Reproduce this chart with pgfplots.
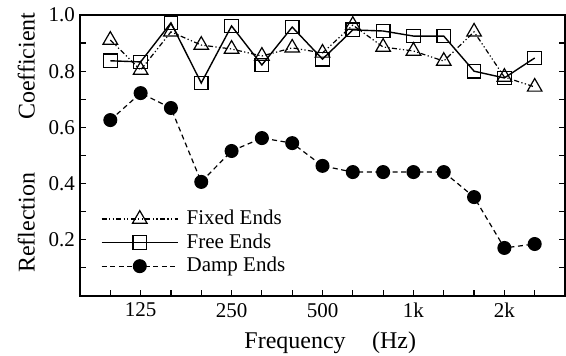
\documentclass[border=0pt]{standalone}
\usepackage{fontspec}
\setmainfont{Liberation Serif}
\usepackage{pgfplots}
\pgfplotsset{compat=1.18}
\begin{document}
\begin{tikzpicture}
\useasboundingbox (-40pt,-30pt) rectangle (243pt,148pt);
\begin{axis}[
  scale only axis,
  width=242.5pt, height=140.5pt,
  xmin=-1, xmax=15, ymin=0, ymax=1.0,
  xtick={0,...,14},
  xticklabels={,125,,,250,,,500,,,1k,,,2k,},
  xtick pos=left,
  ytick={0.2,0.4,0.6,0.8,1.0},
  minor ytick={0.1,0.3,0.5,0.7,0.9},
  yticklabel style={/pgf/number format/fixed,/pgf/number format/fixed zerofill,/pgf/number format/precision=1, xshift=1pt},
  /pgf/number format/assume math mode=true,
  tick align=inside,
  major tick length=3pt, minor tick length=3pt,
  tick style={line width=0.6pt, black},
  axis line style={line width=1pt},
  ticklabel style={font=\fontsize{10.5}{12}\selectfont},
  label style={font=\fontsize{12}{14}\selectfont},
  xlabel={Frequency\hspace{1.1em}(Hz)},
  ylabel={Reflection\hspace{2.2em}Coefficient},
  xlabel style={at={(ticklabel cs:0.516)}, yshift=0pt},
  ylabel style={at={(ticklabel cs:0.546)}},
  legend style={draw=none, fill=none, at={(0.03,0.335)}, anchor=north west,
    font=\fontsize{10.5}{12}\selectfont, row sep=-1pt,
    nodes={inner xsep=4pt}},
  legend cell align=left,
  legend image code/.code={\draw[mark repeat=2,mark phase=2] plot coordinates {(0cm,0cm) (0.67cm,0cm) (1.34cm,0cm)};},
]
\addplot[black, line width=0.6pt, dash pattern=on 2.5pt off 1.2pt on 0.6pt off 1.2pt on 0.6pt off 1.2pt,
  mark=triangle, mark size=4.2pt, mark options={solid, fill=white, line width=0.6pt}]
  coordinates {(0,0.911)(1,0.804)(2,0.940)(3,0.893)(4,0.879)(5,0.854)(6,0.883)(7,0.865)(8,0.964)(9,0.886)(10,0.872)(11,0.836)(12,0.940)(13,0.779)(14,0.744)};
\addlegendentry{Fixed Ends}
\addplot[black, line width=0.7pt, mark=square, mark size=3.4pt, mark options={solid, fill=white, line width=0.6pt}]
  coordinates {(0,0.837)(1,0.833)(2,0.972)(3,0.758)(4,0.961)(5,0.822)(6,0.957)(7,0.843)(8,0.947)(9,0.943)(10,0.925)(11,0.925)(12,0.800)(13,0.776)(14,0.847)};
\addlegendentry{Free Ends}
\addplot[black, line width=0.6pt, dash pattern=on 2.5pt off 1.8pt, mark=*, mark size=3.2pt, mark options={solid, fill=black}]
  coordinates {(0,0.626)(1,0.722)(2,0.669)(3,0.406)(4,0.516)(5,0.562)(6,0.544)(7,0.463)(8,0.441)(9,0.441)(10,0.441)(11,0.441)(12,0.352)(13,0.171)(14,0.185)};
\addlegendentry{Damp Ends}
\end{axis}
\end{tikzpicture}
\end{document}
